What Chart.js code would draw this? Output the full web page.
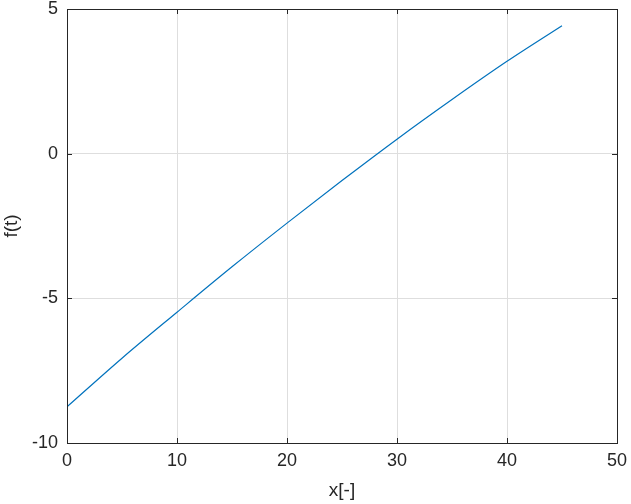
<!DOCTYPE html>
<html><head><meta charset="utf-8">
<script src="https://cdn.jsdelivr.net/npm/chart.js@4"></script>
<style>html,body{margin:0;padding:0;background:#fff}#wrap{width:631px;height:504px}</style>
</head><body><div id="wrap"><canvas id="c" width="631" height="504"></canvas></div>
<script>
const xValues = [0, 5, 10, 15, 20, 25, 30, 35, 40, 45];
const fValues = [-8.75, -7.07, -5.48, -3.91, -2.40, -0.93, 0.50, 1.87, 3.19, 4.42];
const xTicks = [0, 10, 20, 30, 40, 50];
const yTicks = [-10, -5, 0, 5];

const FONT = "'Liberation Sans', Arial, sans-serif";
const boxPlugin = {
  id: 'box',
  afterDraw(chart) {
    const {ctx, chartArea: a, scales} = chart;
    ctx.save();
    ctx.strokeStyle = '#262626';
    ctx.lineWidth = 1;
    ctx.beginPath();
    const L = 5;
    xTicks.forEach(v => {
      const p = Math.round(scales.x.getPixelForValue(v)) + 0.5;
      ctx.moveTo(p, a.bottom); ctx.lineTo(p, a.bottom - L);
      ctx.moveTo(p, a.top); ctx.lineTo(p, a.top + L);
    });
    yTicks.forEach(v => {
      const p = Math.round(scales.y.getPixelForValue(v)) + 0.5;
      ctx.moveTo(a.left, p); ctx.lineTo(a.left + L, p);
      ctx.moveTo(a.right, p); ctx.lineTo(a.right - L, p);
    });
    ctx.stroke();
    ctx.strokeRect(Math.round(a.left) + 0.5, Math.round(a.top) + 0.5, Math.round(a.right - a.left), Math.round(a.bottom - a.top));
    ctx.restore();
  }
};

function zeroPad(s) { s.paddingTop = 0; s.paddingBottom = 0; s.paddingLeft = 0; s.paddingRight = 0; }

new Chart(document.getElementById('c'), {
  type: 'line',
  data: {
    datasets: [{
      data: xValues.map((x, i) => ({x, y: fValues[i]})),
      borderColor: '#0072BD',
      borderWidth: 1.2,
      pointRadius: 0,
      cubicInterpolationMode: 'monotone',
      fill: false
    }]
  },
  options: {
    responsive: false,
    animation: false,
    devicePixelRatio: 1,
    layout: {padding: {top: 9, right: 14, left: 0, bottom: 0}},
    plugins: {legend: {display: false}, tooltip: {enabled: false}},
    scales: {
      x: {
        type: 'linear', min: 0, max: 50,
        afterBuildTicks: s => { s.ticks = xTicks.map(v => ({value: v})); },
        afterFit: s => { s.height = 61; zeroPad(s); },
        grid: {color: '#dedede', drawTicks: false},
        border: {display: false},
        ticks: {padding: 7, color: '#262626', font: {family: FONT, size: 18}},
        title: {display: true, text: 'x[-]', color: '#262626', font: {family: FONT, size: 19}, padding: {top: 0, bottom: 2}}
      },
      y: {
        type: 'linear', min: -10, max: 5,
        afterBuildTicks: s => { s.ticks = yTicks.map(v => ({value: v})); },
        afterFit: s => { s.width = 67; zeroPad(s); },
        grid: {color: '#dedede', drawTicks: false},
        border: {display: false},
        ticks: {padding: 9, color: '#262626', font: {family: FONT, size: 18}},
        title: {display: true, text: 'f(t)', color: '#262626', font: {family: FONT, size: 19}, padding: {top: 0, bottom: 0}}
      }
    }
  },
  plugins: [boxPlugin]
});
</script></body></html>
